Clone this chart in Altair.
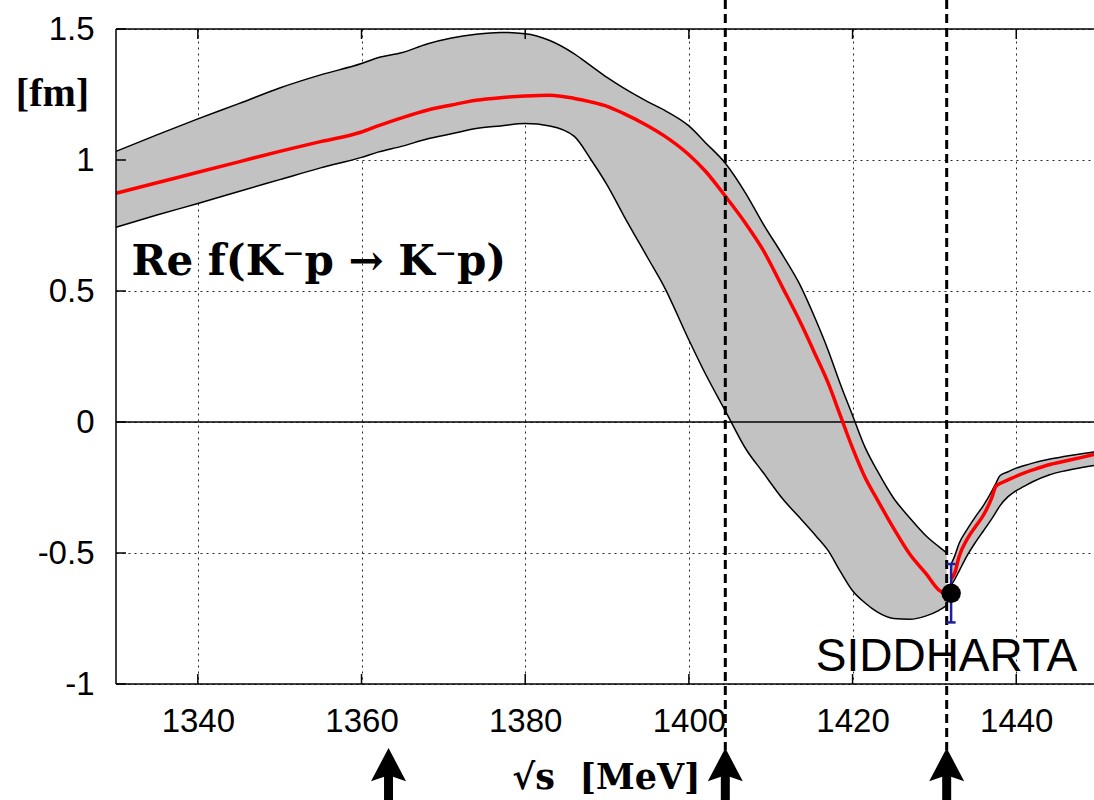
import altair as alt
import pandas as pd

# ---------------- data ----------------
# band below the K- p threshold
left_x = [1330, 1335, 1340, 1345, 1350, 1355, 1360, 1362, 1365, 1368, 1371, 1374, 1377,
          1380, 1383, 1386, 1388, 1390, 1392, 1395, 1397, 1400, 1402, 1404.5, 1407, 1409,
          1411.5, 1413.5, 1415.5, 1417, 1418.5, 1420, 1421.5, 1423, 1425, 1427, 1429,
          1430.5, 1431.5]
left_upper = [1.033, 1.096, 1.157, 1.215, 1.275, 1.325, 1.368, 1.39, 1.41, 1.443, 1.466,
              1.48, 1.487, 1.482, 1.456, 1.405, 1.36, 1.315, 1.275, 1.222, 1.19, 1.13,
              1.067, 0.986, 0.87, 0.76, 0.635, 0.528, 0.39, 0.275, 0.145, 0.025, -0.095,
              -0.185, -0.29, -0.366, -0.435, -0.475, -0.50]
left_lower = [0.743, 0.79, 0.834, 0.88, 0.925, 0.97, 1.01, 1.03, 1.053, 1.08, 1.10, 1.12,
              1.13, 1.139, 1.13, 1.09, 1.003, 0.905, 0.79, 0.625, 0.515, 0.313, 0.185,
              0.04, -0.105, -0.19, -0.295, -0.364, -0.434, -0.49, -0.57, -0.644, -0.69,
              -0.725, -0.75, -0.753, -0.74, -0.72, -0.70]
left_center = [0.873, 0.913, 0.953, 0.993, 1.033, 1.07, 1.107, 1.13, 1.162, 1.19, 1.21,
               1.228, 1.238, 1.244, 1.247, 1.235, 1.222, 1.205, 1.178, 1.13, 1.092, 1.02,
               0.958, 0.86, 0.755, 0.66, 0.51, 0.388, 0.254, 0.15, 0.025, -0.10, -0.21,
               -0.295, -0.405, -0.505, -0.58, -0.64, -0.66]

# band above the threshold
right_x = [1432.0, 1432.5, 1433, 1434, 1435, 1436, 1437, 1437.5, 1438, 1439, 1440, 1441,
           1442, 1444, 1446, 1448, 1449.5]
right_upper = [-0.545, -0.51, -0.465, -0.41, -0.362, -0.318, -0.265, -0.235, -0.205,
               -0.19, -0.176, -0.166, -0.157, -0.142, -0.131, -0.121, -0.114]
right_lower = [-0.625, -0.60, -0.57, -0.51, -0.46, -0.415, -0.37, -0.345, -0.32, -0.285,
               -0.262, -0.245, -0.228, -0.202, -0.186, -0.174, -0.166]
right_center = [-0.60, -0.575, -0.515, -0.447, -0.40, -0.355, -0.29, -0.246, -0.235,
                -0.221, -0.207, -0.194, -0.183, -0.163, -0.149, -0.135, -0.124]

x_ticks = [1340, 1360, 1380, 1400, 1420, 1440]
y_ticks = [-1, -0.5, 0, 0.5, 1, 1.5]
x_domain = [1330, 1449.5]
y_domain = [-1, 1.5]

dashed_x = [1404.45, 1431.5]
arrow_x = [1363.3, 1404.45, 1431.5]

sid_x = [1432.04]
sid_y = [-0.654]
sid_lo = [-0.765]
sid_hi = [-0.542]

label_main = ["Re f(K\u207bp \u2192 K\u207bp)"]
label_main_x = [1331.9]
label_main_y = [0.56]
label_sid = ["SIDDHARTA"]
label_sid_x = [1415.5]
label_sid_y = [-0.949]

W, H = 978, 655

# ---------------- tables ----------------
band = pd.DataFrame({
    "x": left_x + right_x,
    "lo": left_lower + right_lower,
    "hi": left_upper + right_upper,
    "seg": ["L"] * len(left_x) + ["R"] * len(right_x),
})

edges = pd.DataFrame({
    "x": left_x + left_x + right_x + right_x,
    "lo": left_upper + left_lower + right_upper + right_lower,
    "curve": (["Lu"] * len(left_x) + ["Ll"] * len(left_x)
              + ["Ru"] * len(right_x) + ["Rl"] * len(right_x)),
})

center = pd.DataFrame({
    "x": left_x + right_x,
    "lo": left_center + right_center,
    "seg": ["L"] * len(left_x) + ["R"] * len(right_x),
})

sid = pd.DataFrame({"x": sid_x, "lo": sid_lo, "hi": sid_hi, "y": sid_y})
caps = pd.DataFrame({"x": sid_x + sid_x, "lo": sid_lo + sid_hi})
dot = pd.DataFrame({"x": sid_x, "lo": sid_y})
zero = pd.DataFrame({"lo": [0]})
dashed = pd.DataFrame({"x": dashed_x})
arrows = pd.DataFrame({"x": arrow_x})
xt = pd.DataFrame({"x": x_ticks})
yt = pd.DataFrame({"lo": y_ticks})
tmain = pd.DataFrame({"x": label_main_x, "lo": label_main_y, "t": label_main})
tsid = pd.DataFrame({"x": label_sid_x, "lo": label_sid_y, "t": label_sid})

# ---------------- scales & axes ----------------
xs = alt.Scale(domain=x_domain, nice=False, zero=False)
ys = alt.Scale(domain=y_domain, nice=False, zero=False)

xaxis = alt.Axis(values=x_ticks, format="d", labelPadding=21,
                 title="\u221as\u00a0\u00a0[MeV]", titleX=490, titleY=93,
                 titleAlign="center", titleBaseline="middle", titleFontSize=35,
                 titleFont="DejaVu Serif")
yaxis = alt.Axis(values=y_ticks, labelExpr="'' + datum.value", labelPadding=22,
                 title="[fm]", titleAngle=0, titleX=-64, titleY=64,
                 titleAlign="center", titleBaseline="middle", titleFontSize=40,
                 titleFont="Liberation Serif")


def X():
    return alt.X("x:Q", scale=xs, axis=xaxis)


def Y():
    return alt.Y("lo:Q", scale=ys, axis=yaxis)


BLUE = "#1f1f9c"
arrow_path = "M0,-1L1,0.9L0,0.55L-1,0.9Z"

band_layer = alt.Chart(band).mark_area(color="#c2c2c2", interpolate="monotone", opacity=1).encode(
    x=X(), y=Y(), y2="hi:Q", detail="seg:N")

edge_layer = alt.Chart(edges).mark_line(color="black", strokeWidth=1.5, interpolate="monotone").encode(
    x=X(), y=Y(), detail="curve:N")

zero_layer = alt.Chart(zero).mark_rule(color="black", strokeWidth=1.5).encode(
    y=Y(), x=alt.value(0), x2=alt.value(W))

center_layer = alt.Chart(center).mark_line(color="#ff0000", strokeWidth=3.5, interpolate="monotone").encode(
    x=X(), y=Y(), detail="seg:N")

dashed_layer = alt.Chart(dashed).mark_rule(color="black", strokeWidth=3, strokeDash=[9, 5]).encode(
    x=X(), y=alt.value(-29), y2=alt.value(721))

err_layer = alt.Chart(sid).mark_rule(color=BLUE, strokeWidth=2.5).encode(
    x=X(), y=Y(), y2="hi:Q")

cap_layer = alt.Chart(caps).mark_tick(orient="horizontal", size=9, thickness=2.5, color=BLUE, opacity=1).encode(
    x=X(), y=Y())

dot_layer = alt.Chart(dot).mark_circle(size=380, color="black", opacity=1).encode(x=X(), y=Y())

arrow_head = alt.Chart(arrows).mark_point(shape=arrow_path, size=1225, filled=True,
                                          color="black", opacity=1, strokeWidth=0).encode(
    x=X(), y=alt.value(736.5))
arrow_shaft = alt.Chart(arrows).mark_rule(color="black", strokeWidth=9).encode(
    x=X(), y=alt.value(742), y2=alt.value(790))

tick_top = alt.Chart(xt).mark_rule(color="black", strokeWidth=1.5).encode(
    x=X(), y=alt.value(0), y2=alt.value(10))
tick_bot = alt.Chart(xt).mark_rule(color="black", strokeWidth=1.5).encode(
    x=X(), y=alt.value(H - 10), y2=alt.value(H))
tick_left = alt.Chart(yt).mark_rule(color="black", strokeWidth=1.5).encode(
    y=Y(), x=alt.value(0), x2=alt.value(10))

border = pd.DataFrame({"x0": [0, 0, 0], "x1": [W, W, 0], "y0": [0, H, 0], "y1": [0, H, H]})
border_layer = alt.Chart(border).mark_rule(color="black", strokeWidth=1.5).encode(
    x=alt.X("x0:Q", scale=None, axis=None), x2="x1:Q",
    y=alt.Y("y0:Q", scale=None, axis=None), y2="y1:Q")

text_main = alt.Chart(tmain).mark_text(font="DejaVu Serif", fontWeight="bold", fontSize=42,
                                      align="left", baseline="alphabetic", color="black").encode(
    x=X(), y=Y(), text="t:N")
text_sid = alt.Chart(tsid).mark_text(font="Liberation Sans", fontSize=46, align="left",
                                     baseline="alphabetic", color="black").encode(
    x=X(), y=Y(), text="t:N")

chart = alt.layer(
    band_layer, edge_layer, zero_layer, center_layer, dashed_layer,
    err_layer, cap_layer, dot_layer, arrow_head, arrow_shaft,
    tick_top, tick_bot, tick_left, border_layer, text_main, text_sid,
).properties(
    width=W, height=H,
    autosize=alt.AutoSizeParams(type="none"),
    padding={"left": 116, "top": 29, "right": 0, "bottom": 116},
    background="white",
).configure_view(
    strokeWidth=0
).configure_axis(
    grid=True, gridDash=[2, 4], gridColor="black", gridWidth=1, gridOpacity=0.85,
    ticks=False, domain=False,
    labelFont="Liberation Sans", labelFontSize=33, labelColor="black",
    titleFontWeight="bold", titleColor="black",
)

chart.save("out.html", embed_options={"renderer": "svg", "actions": False})
